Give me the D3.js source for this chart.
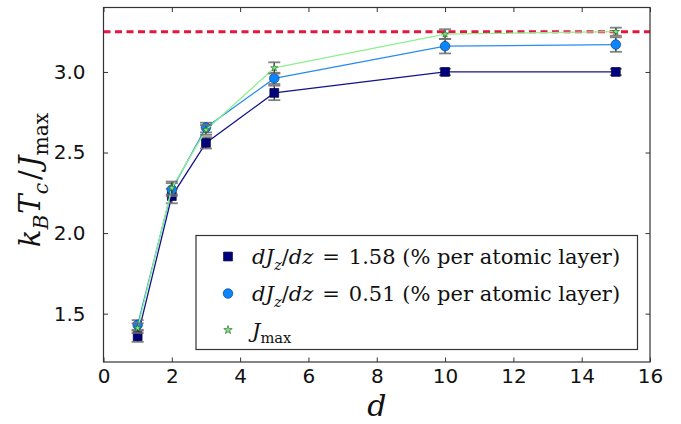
<!DOCTYPE html>
<html>
<head>
<meta charset="utf-8">
<script src="https://cdn.jsdelivr.net/npm/d3@7"></script>
<style>
  body { margin: 0; background: #fff; }
  svg { display: block; }
  .math { font-family: "DejaVu Serif", "Liberation Serif", serif; }
  .tick text { font-family: "DejaVu Sans", sans-serif; }
</style>
</head>
<body>
<svg id="chart" width="681" height="424"></svg>
<script>
// Film thickness (number of atomic layers)
const layers = [1, 2, 3, 5, 10, 15];

// k_B T_c / J_max for the steep gradient dJz/dz = 1.58 %
const tcSteep  = [1.36, 2.23, 2.56, 2.87, 3.00, 3.00];
const errSteep = [0.035, 0.045, 0.035, 0.045, 0.02, 0.02];

// k_B T_c / J_max for the shallow gradient dJz/dz = 0.51 %
const tcShallow  = [1.43, 2.27, 2.655, 2.96, 3.16, 3.17];
const errShallow = [0.03, 0.04, 0.03, 0.035, 0.045, 0.045];

// k_B T_c / J_max for uniform coupling J_max
const tcUniform  = [1.41, 2.28, 2.64, 3.025, 3.235, 3.25];
const errUniform = [0.03, 0.04, 0.03, 0.035, 0.03, 0.025];

// bulk reference level
const tcBulk = 3.25;

const xTicks = [0, 2, 4, 6, 8, 10, 12, 14, 16];
const yTicks = [1.5, 2.0, 2.5, 3.0];

const svg = d3.select("#chart");
const plot = { left: 103.5, right: 650, top: 7.5, bottom: 362 };

const x = d3.scaleLinear().domain([0, 16]).range([plot.left, plot.right]);
const y = d3.scaleLinear().domain([1.2, 3.4]).range([plot.bottom, plot.top]);

// clip region for data marks
svg.append("defs").append("clipPath").attr("id", "plotclip")
  .append("rect")
  .attr("x", plot.left).attr("y", plot.top)
  .attr("width", plot.right - plot.left).attr("height", plot.bottom - plot.top);

// bulk level dashed line
svg.append("line")
  .attr("x1", plot.left).attr("x2", plot.right)
  .attr("y1", y(tcBulk)).attr("y2", y(tcBulk))
  .attr("stroke", "#e3173e").attr("stroke-width", 3)
  .attr("stroke-dasharray", "7,4.5");

const series = [
  { vals: tcSteep,   err: errSteep,   line: "#14148a", fill: "#00007c", stroke: "#000033",
    sym: d3.symbolSquare, size: 78 },
  { vals: tcShallow, err: errShallow, line: "#2a8cf0", fill: "#0a84ff", stroke: "#0b3f80",
    sym: d3.symbolCircle, size: 72 },
  { vals: tcUniform, err: errUniform, line: "#8ef08e", fill: "#7fe87f", stroke: "#2d6b2d",
    sym: d3.symbolStar, size: 16 }
];

const data = svg.append("g").attr("clip-path", "url(#plotclip)");
const lineGen = d3.line().x(d => x(d[0])).y(d => y(d[1]));

series.forEach(s => {
  const pts = layers.map((d, i) => [d, s.vals[i], s.err[i]]);
  const g = data.append("g");

  // connecting line
  g.append("path")
    .datum(pts)
    .attr("d", lineGen)
    .attr("fill", "none")
    .attr("stroke", s.line)
    .attr("stroke-width", 1.3);

  // error bars
  const eb = g.selectAll("g.eb").data(pts).join("g").attr("class", "eb");
  eb.append("line")
    .attr("x1", d => x(d[0])).attr("x2", d => x(d[0]))
    .attr("y1", d => y(d[1] - d[2])).attr("y2", d => y(d[1] + d[2]))
    .attr("stroke", "#3a3a3a").attr("stroke-width", 1.4);
  [-1, 1].forEach(sgn => {
    eb.append("line")
      .attr("x1", d => x(d[0]) - 6).attr("x2", d => x(d[0]) + 6)
      .attr("y1", d => y(d[1] + sgn * d[2])).attr("y2", d => y(d[1] + sgn * d[2]))
      .attr("stroke", "#6e6e6e").attr("stroke-width", 1.8).attr("opacity", 0.85);
  });

  // markers
  g.selectAll("path.mk").data(pts).join("path")
    .attr("class", "mk")
    .attr("d", d3.symbol().type(s.sym).size(s.size))
    .attr("transform", d => `translate(${x(d[0])},${y(d[1])})`)
    .attr("fill", s.fill)
    .attr("stroke", s.stroke)
    .attr("stroke-width", 0.7);
});

// axes (ticks point inward on all four sides)
function styleAxis(g) {
  g.select(".domain").remove();
  g.selectAll(".tick line").attr("stroke", "#333").attr("stroke-width", 1);
  g.selectAll(".tick text")
    .attr("font-family", null).attr("font-size", 20).attr("fill", "#111");
}

svg.append("g")
  .attr("transform", `translate(0,${plot.bottom})`)
  .call(d3.axisBottom(x).tickValues(xTicks).tickFormat(d3.format("d"))
    .tickSizeInner(-4.5).tickSizeOuter(0).tickPadding(7))
  .call(styleAxis);

svg.append("g")
  .attr("transform", `translate(0,${plot.top})`)
  .call(d3.axisTop(x).tickValues(xTicks).tickFormat("")
    .tickSizeInner(-4.5).tickSizeOuter(0))
  .call(styleAxis);

svg.append("g")
  .attr("transform", `translate(${plot.left},0)`)
  .call(d3.axisLeft(y).tickValues(yTicks).tickFormat(d3.format(".1f"))
    .tickSizeInner(-4.5).tickSizeOuter(0).tickPadding(18))
  .call(styleAxis);

svg.append("g")
  .attr("transform", `translate(${plot.right},0)`)
  .call(d3.axisRight(y).tickValues(yTicks).tickFormat("")
    .tickSizeInner(-4.5).tickSizeOuter(0))
  .call(styleAxis);

// frame
svg.append("rect")
  .attr("x", plot.left).attr("y", plot.top)
  .attr("width", plot.right - plot.left).attr("height", plot.bottom - plot.top)
  .attr("fill", "none").attr("stroke", "#333").attr("stroke-width", 1.2);

// helper writing math-style text from parts: [text, italic, sub, dx]
function mathText(sel, parts, fs) {
  let shift = 0;
  parts.forEach(([t, it, sub, dx]) => {
    const target = sub ? fs * 0.28 : 0;
    const ts = sel.append("tspan")
      .text(t)
      .style("font-style", it ? "italic" : "normal")
      .style("font-size", (sub ? fs * 0.7 : fs) + "px")
      .attr("dy", target - shift);
    if (dx) ts.attr("dx", dx);
    shift = target;
  });
}

// axis labels
const xl = svg.append("text")
  .attr("class", "math")
  .attr("x", x(8)).attr("y", 416)
  .attr("text-anchor", "middle")
  .attr("fill", "#111");
mathText(xl, [["d", true, false]], 30);

const yl = svg.append("text")
  .attr("class", "math")
  .attr("transform", "translate(40,180) rotate(-90)")
  .attr("text-anchor", "middle")
  .attr("fill", "#111");
mathText(yl, [
  ["k", true, false], ["B", true, true], ["T", true, false, 1], ["c", true, true],
  ["/", false, false, 3], ["J", true, false, 3], ["max", false, true]
], 29);

// legend
const legend = svg.append("g");
legend.append("rect")
  .attr("x", 196).attr("y", 235.5)
  .attr("width", 441.5).attr("height", 114)
  .attr("fill", "#fff").attr("stroke", "#333").attr("stroke-width", 1.2);

const legendRows = [
  { s: series[0], y: 256.5, parts: [["d", true], ["J", true], ["z", true, true], ["/", false], ["dz", true],
      ["=", false, false, 9], ["1.58 (% per atomic layer)", false, false, 9]] },
  { s: series[1], y: 293.5, parts: [["d", true], ["J", true], ["z", true, true], ["/", false], ["dz", true],
      ["=", false, false, 9], ["0.51 (% per atomic layer)", false, false, 9]] },
  { s: series[2], y: 330,   parts: [["J", true], ["max", false, true]] }
];

legendRows.forEach(r => {
  legend.append("path")
    .attr("d", d3.symbol().type(r.s.sym).size(r.s.sym === d3.symbolStar ? 22 : r.s.size))
    .attr("transform", `translate(228,${r.y})`)
    .attr("fill", r.s.fill).attr("stroke", r.s.stroke).attr("stroke-width", 0.7);
  const t = legend.append("text")
    .attr("class", "math")
    .attr("x", 252).attr("y", r.y + 7.5)
    .attr("fill", "#111");
  mathText(t, r.parts, 21);
});
</script>
</body>
</html>
